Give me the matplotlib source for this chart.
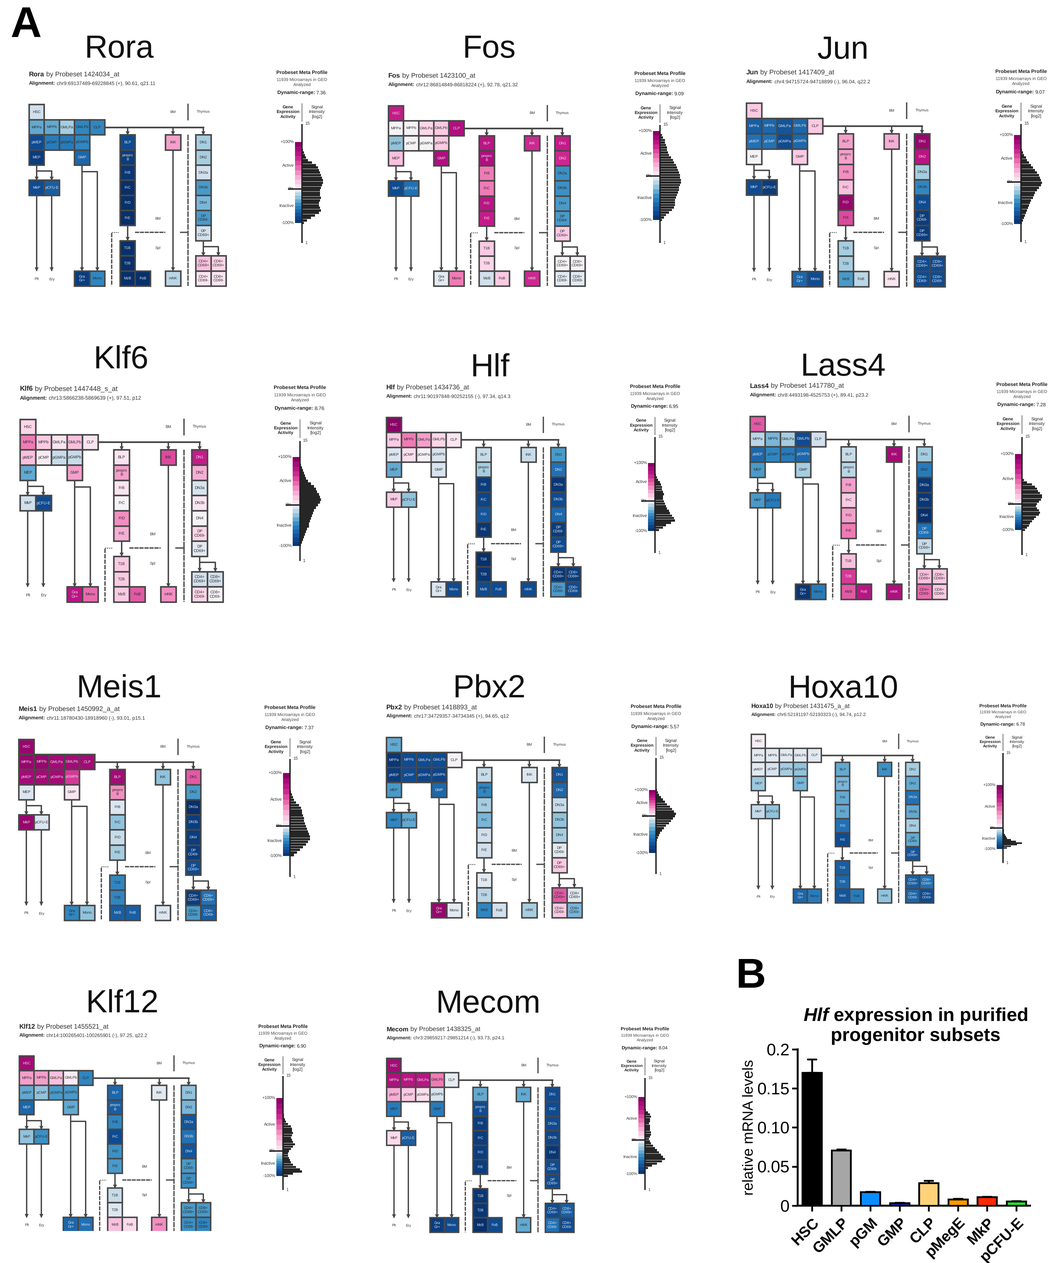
import numpy as np
import matplotlib
matplotlib.use("Agg")
import matplotlib.pyplot as plt
from matplotlib.colors import LinearSegmentedColormap
from matplotlib.patches import Rectangle
from PIL import Image

plt.rcParams['font.family'] = ['Liberation Sans', 'DejaVu Sans']
plt.rcParams['mathtext.fontset'] = 'custom'
plt.rcParams['mathtext.bfit'] = 'Liberation Sans:italic:bold'
plt.rcParams['mathtext.rm'] = 'Liberation Sans'
plt.rcParams['text.hinting'] = 'no_hinting'

W, H = 1051, 1263

# names of the cells, same order in every value list
CELL_LABELS = ["HSC", "MPPa", "MPPb", "GMLPa", "GMLPb", "CLP",
               "pMEP", "pCMP", "pGMPa", "pGMPb", "MEP", "GMP",
               "MkP", "pCFU-E", "Gra\nGr+", "Mono",
               "BLP", "prepro\nB", "FrB", "FrC", "FrD", "FrE",
               "T1B", "T2B", "MzB", "FoB", "iNK", "mNK",
               "DN1", "DN2", "DN3a", "DN3b", "DN4", "DP\nCD69-", "DP\nCD69+",
               "CD4+\nCD69+", "CD8+\nCD69+", "CD4+\nCD69-", "CD8+\nCD69-"]

# expression level of each cell, -10 (inactive) to +10 (active)
RORA = [-1, -3.5, -3.5, -2, -5, -5, -8, -5.5, -5.5, -5, -9, -6.5, -8, -7, -9, -5,
        -8, -9, -9.5, -10, -10, -10, -10, -10, -10, -10, 3, -1.5,
        -2, -2, -1, -4, -3, -4, -1, 2, 1, 0.5, 0.5]
FOS = [7, 0, 0, 1, 1.5, 8, -2.5, 0, 0, 1.5, 2, 8, -8, -6, -0.5, 4,
       7.5, 8, 4, 4, 7.5, 7, 1.5, 1, -1, 1.5, 6.5, 6.5,
       7, 6.5, -4.5, -4.5, -4, -4, 1.5, 0, 0, -0.5, -0.5]
JUN = [1.5, -7, -6.5, -7.5, -6.5, 1.5, -6, -6, -8, -6.5, 0, 1.5, -8, -9, -6.5, -8,
       3, 3, 3.5, 2, 9, 5.5, -2, -2, -4, -1.5, 2.5, 0.5,
       9, 7.5, -2, -5, -8, -9, -9, -8, -8, -8, -8]
KLF6 = [1, 4, 1.5, 0.5, 2, 0.5, 2, 0.3, -1.2, -1.2, -3.5, 3, -1, -8, 7.5, 4.5,
        0.5, 3, 0.5, 0, 3.5, 2.5, 1.5, 1.5, 1.5, 5, 5.5, 3.5,
        7, 2.5, -0.8, 0.5, 0, 1, -0.5, -1, -1, 1, 0]
HLF = [9.5, 1.5, 4, 3, 1, 0.5, -0.7, 0.7, 0, -0.8, -3.5, -0.8, 1.5, -2.5, -0.7, -8,
       -1.2, -2, -9, -8.5, -7.5, -9.5, -10, -9.5, -8, -8, -1.2, -8,
       -4, -6, -9.5, -8, -6.5, -9, -8, -9.5, -9, -4, -8]
LASS4 = [5, -1.5, -3, -2, -8, -1, -6.5, -5, -5.5, -6.5, -4, -2, -4, -5.5, -9.5, -5.5,
         -1.2, -1.5, 3, 1.5, 3, 4, 2, 6, 5, 7.5, 8.5, 8,
         -2, -5.5, -9.5, -9.5, -10, -6, -1.2, 2, 1.5, 4.5, 1.5]
MEIS1 = [9, 9, 9, 8.5, 8.5, 8.5, 8.5, 8.5, 8.5, 6, -0.7, 0.5, 9, -0.7, -5, -2.5,
         8.5, 3.5, -0.7, -2.5, -1.2, -2, -5, -5, -7, -7, -2.5, -0.7,
         5, -4, -10, -9, -9, -9, -8, -9, -6, -4, -7]
PBX2 = [-3.5, -9.5, -8, -8, -8, 0, -9, -8, -8.5, -8.5, -4, -6.5, -5, -3.5, 9, -0.5,
        -1.2, -5, -2, -3, -1, -1, -0.5, -1.5, -5, -1, -0.7, -2,
        -7.5, -6.5, -1.2, -2.5, -2, -0.5, 1.5, 5, -0.5, 1.5, -3]
HOXA10 = [0.2, -0.5, -0.5, -0.5, -0.5, -0.5, -0.5, -0.8, -2, -2.5, -2.2, -3, -1.3, -2.5, -6.5, -5.5,
          -3.5, -3, -3.5, -3.5, -6, -8, -7, -6.5, -7.5, -5.5, -4.5, -2.5,
          -2, -3.5, -6, -3.5, -2, -3.5, -7.5, -7, -6, -6.5, -8]
KLF12 = [8.5, 3, 3, 2, 0.3, -5, -3.5, -2.5, -4, -4, -6.5, -3.5, -2.5, -4.5, -6.5, -6,
         -6.5, -7, -5, -8, -4.5, -4, -1.2, -0.7, 2, 0.8, -0.5, 3.5,
         -2.5, -3, -7.5, -6, -7.5, -4, -4.5, -4, -4, -4.5, -5]
MECOM = [8.5, 8, 7.5, 7.5, 4, -0.4, 2.5, 1.5, 0.7, -0.8, -5.5, -5.5, 0.8, -7, -9, -8,
         -3.5, -8, -9, -9, -9, -9, -9.5, -9.5, -10, -8, -3.5, -3.5,
         -8, -8, -8, -8.5, -9.5, -8, -8, -8, -7, -6, -8]

# meta profile histograms, top to bottom
RORA_HIST = [1, 2, 3, 4, 6, 10, 14, 16, 17, 18, 19, 20, 21, 21, 20, 19, 18, 18, 18, 19, 18, 17, 17, 18, 19, 17, 13, 9, 5, 2]
FOS_HIST = [2, 3, 5, 5, 6, 7, 7, 8, 9, 11, 13, 14, 16, 17, 18, 19, 20, 20, 21, 21, 20, 19, 19, 18, 17, 16, 15, 15, 15, 14, 12, 9, 6, 4, 2]
JUN_HIST = [1, 2, 3, 5, 6, 8, 10, 12, 14, 16, 18, 19, 20, 21, 20, 18, 16, 14, 13, 12, 10, 9, 8, 7, 6, 5, 4, 3, 2, 1]
KLF6_HIST = [1, 2, 3, 4, 5, 6, 8, 11, 14, 16, 17, 19, 20, 21, 20, 18, 16, 14, 13, 12, 11, 10, 9, 9, 7, 6, 5, 4, 3, 2, 1]
HLF_HIST = [1, 2, 3, 5, 6, 7, 7, 8, 9, 8, 8, 9, 10, 11, 12, 14, 15, 17, 19, 20, 16, 11, 8, 4]
LASS4_HIST = [2, 5, 10, 13, 15, 16, 18, 20, 20, 19, 17, 15, 14, 15, 17, 18, 17, 14, 12, 10, 8, 7, 5, 3]
MEIS1_HIST = [1, 2, 3, 4, 6, 9, 11, 12, 12, 13, 14, 14, 15, 16, 17, 18, 19, 20, 20, 18, 16, 13, 10, 7, 4]
PBX2_HIST = [1, 2, 3, 5, 7, 9, 11, 14, 16, 18, 20, 19, 17, 15, 13, 10, 8, 6, 4, 3, 2, 1]
HOXA10_HIST = [1, 1, 1, 2, 3, 4, 8, 13, 19, 14, 8, 4]
KLF12_HIST = [1, 1, 2, 3, 5, 8, 9, 9, 10, 9, 8, 9, 10, 12, 10, 8, 6, 5, 5, 6, 7, 8, 10, 13, 17, 19, 10, 5]
MECOM_HIST = [1, 3, 5, 6, 5, 5, 4, 5, 5, 5, 6, 6, 5, 4, 5, 6, 8, 10, 12, 14, 16, 18, 20, 17, 12, 7, 3]

GENES = ["Rora", "Fos", "Jun", "Klf6", "Hlf", "Lass4", "Meis1", "Pbx2", "Hoxa10", "Klf12", "Mecom"]
PROBES = ["1424034_at", "1423100_at", "1417409_at", "1447448_s_at", "1434736_at", "1417780_at",
          "1450992_a_at", "1418893_at", "1431475_a_at", "1455521_at", "1438325_at"]
ALIGN = ["chr9:69137489-69228845 (+), 90.61, q21.11",
         "chr12:86814849-86818224 (+), 92.78, q21.32",
         "chr4:94715724-94718899 (-), 96.04, q22.2",
         "chr13:5866238-5869639 (+), 97.51, p12",
         "chr11:90197848-90252155 (-), 97.34, q14.3",
         "chr8:4493198-4525753 (+), 89.41, p23.2",
         "chr11:18780430-18918960 (-), 93.01, p15.1",
         "chr17:34729357-34734345 (+), 94.65, q12",
         "chr6:52191197-52193323 (-), 94.74, p12.2",
         "chr14:100265401-100265901 (-), 97.25, q22.2",
         "chr3:29859217-29851214 (-), 93.73, p24.1"]
DYN_RANGE = ["7.36", "9.09", "9.07", "8.76", "6.95", "7.28", "7.37", "5.57", "6.78", "6.90", "8.04"]
ALL_CELLS = [RORA, FOS, JUN, KLF6, HLF, LASS4, MEIS1, PBX2, HOXA10, KLF12, MECOM]
ALL_HIST = [RORA_HIST, FOS_HIST, JUN_HIST, KLF6_HIST, HLF_HIST, LASS4_HIST, MEIS1_HIST,
            PBX2_HIST, HOXA10_HIST, KLF12_HIST, MECOM_HIST]

# bar chart B
B_NAMES = ["HSC", "GMLP", "pGM", "GMP", "CLP", "pMegE", "MkP", "pCFU-E"]
B_VALUES = [0.17, 0.071, 0.0175, 0.0035, 0.029, 0.008, 0.011, 0.0055]
B_ERR = [0.017, 0.001, 0.0005, 0.0005, 0.003, 0.001, 0.0005, 0.0005]
B_COLORS = ["#000000", "#a6a6a6", "#0a8cff", "#0a1fbf", "#ffd27a", "#ff9a00", "#ff2a00", "#22e02a"]

# layout, all in pixels of the picture
TITLE_POS = [(119, 46), (489, 46), (843, 47), (121, 357), (490, 365), (843, 364),
             (119, 686), (489, 686), (843, 686), (122, 1001), (488, 1001)]
# left, top, right, bottom of the lineage diagram
DIAGRAM_BOX = [(29, 104.5, 226, 286), (388.3, 105.7, 585, 286), (746.3, 103, 945, 286.7),
               (20, 419.3, 223, 602), (386.3, 417.3, 580.7, 596.7), (750, 416.3, 947, 599.3),
               (18.7, 739.3, 216, 920.3), (386.3, 737.3, 582, 917.7), (751.3, 734.3, 933.7, 903),
               (19.3, 1056, 210.7, 1232), (386.7, 1058.3, 574, 1232.3)]
CLIP_BOTTOM = {3: 603.5, 9: 1231}
# axis x, axis top, axis bottom, +100%, 0%, -100%, title y
META_POS = [(302, 124, 243, 142, 189, 223, 73), (660, 125, 243, 131, 176, 220, 74),
            (1021, 124, 242, 135, 182, 224, 72), (300, 441, 561, 457, 505, 546, 388),
            (655, 437, 553, 463, 501, 531, 387), (1022, 437, 555, 454, 504, 530, 385),
            (290, 759, 877, 773, 826, 856, 708), (656, 758, 874, 790, 816, 853, 707),
            (1003, 753, 863, 785, 828, 849, 706), (283, 1076, 1190, 1098, 1151, 1176, 1027),
            (645, 1078, 1190, 1097, 1140, 1174, 1029)]
HIST_SPAN = [(150, 223), (135, 220), (150, 223), (465, 545), (475, 530), (480, 530),
             (792, 855), (790, 840), (830, 848), (1115, 1176), (1110, 1168)]

# cell positions in grid units, same order as CELL_LABELS
CELL_XY = [(0, 0), (0, 1), (1, 1), (2, 1), (3, 1), (4, 1),
           (0, 2), (1, 2), (2, 2), (3, 2), (0, 3), (3, 3),
           (0, 5), (1, 5), (3, 11), (4, 11),
           (6, 2), (6, 3), (6, 4), (6, 5), (6, 6), (6, 7),
           (6, 9), (6, 10), (6, 11), (7, 11), (9, 2), (9, 11),
           (11, 2), (11, 3), (11, 4), (11, 5), (11, 6), (11, 7), (11, 8),
           (11, 10), (12, 10), (11, 11), (12, 11)]

cmap = LinearSegmentedColormap.from_list("activity", [
    (0.0, "#08306b"), (0.1, "#0f4c92"), (0.2, "#2171b5"), (0.25, "#2f86c0"), (0.3, "#4a9bc9"),
    (0.35, "#7ab7d9"), (0.4, "#a6cde0"), (0.45, "#d0e0ec"), (0.5, "#f5f3f7"), (0.55, "#fcd5e8"),
    (0.6, "#f9c0de"), (0.65, "#f4a0cb"), (0.7, "#ef7cb6"), (0.75, "#e35ba5"), (0.8, "#d33a97"),
    (0.85, "#c51b8a"), (0.9, "#b01080"), (0.95, "#98076e"), (1.0, "#7f0060")])
LINE = "#484848"


def col(v):
    return cmap((v + 10) / 20)


def px_axes(fig, x0, y0, x1, y1):
    return fig.add_axes([x0 / W, 1 - y1 / H, (x1 - x0) / W, (y1 - y0) / H])


def arrow_line(ax, xs, ys, lw):
    ax.plot(xs, ys, color=LINE, lw=lw, solid_capstyle="butt", zorder=2)
    ax.plot(xs[-1], ys[-1] - 0.1, marker="v", ms=2.8, color=LINE, mew=0, zorder=3)


def diagram(fig, i):
    left, top, right, bottom = DIAGRAM_BOX[i]
    cw, ch = (right - left) / 13, (bottom - top) / 12
    s = cw / 15.15
    pad = 0.1
    low = CLIP_BOTTOM.get(i, bottom + pad * ch)
    ax = px_axes(fig, left - pad * cw, top - pad * ch, right + pad * cw, low)
    ax.set_xlim(-pad, 13 + pad)
    ax.set_ylim((low - top) / ch, -pad)
    ax.axis("off")

    lw = 1.0 * s
    # lines first, cells go over them
    ax.plot([5, 11.5], [1.5, 1.5], color=LINE, lw=lw + 0.2, zorder=2)
    arrow_line(ax, [6.5, 6.5], [1.5, 2], lw)
    arrow_line(ax, [9.5, 9.5], [1.5, 2], lw)
    arrow_line(ax, [11.5, 11.5], [1.5, 2], lw)
    arrow_line(ax, [0.5, 0.5], [4, 5], lw)
    arrow_line(ax, [0.5, 1.5, 1.5], [4.4, 4.4, 5], lw)
    arrow_line(ax, [0.5, 0.5], [6, 11], lw)
    arrow_line(ax, [1.5, 1.5], [6, 11], lw)
    arrow_line(ax, [3.5, 3.5], [4, 11], lw)
    arrow_line(ax, [3.5, 4.5, 4.5], [4.45, 4.45, 11], lw)
    arrow_line(ax, [6.5, 6.5], [8, 9], lw)
    arrow_line(ax, [9.5, 9.5], [3, 11], lw)
    arrow_line(ax, [11.5, 11.5], [9, 10], lw)
    arrow_line(ax, [11.5, 12.5, 12.5], [9.4, 9.4, 10], lw)

    # separators between BM, Spl and Thymus
    ax.plot([10.5, 10.5], [0, 1], color="#555555", lw=lw)
    ax.plot([10.5, 10.5], [2, 12], color="#555555", lw=lw, ls=(0, (4, 0.6)))
    ax.plot([5.45, 5.45], [8.5, 12], color="#555555", lw=lw, ls=(0, (3, 0.8)))
    ax.plot([5.45, 5.9], [8.45, 8.45], color="#555555", lw=lw * 0.7, ls=(0, (1, 1)))
    ax.plot([7, 9], [8.45, 8.45], color="#555555", lw=lw, ls=(0, (3, 0.5)))
    ax.plot([10, 10.5], [8.45, 8.45], color="#555555", lw=lw)

    fs = 2.7 * s
    for (x, y), name, v in zip(CELL_XY, CELL_LABELS, ALL_CELLS[i]):
        ax.add_patch(Rectangle((x, y), 1, 1, facecolor=col(v), edgecolor=LINE, lw=lw + 0.1, zorder=4))
        txt = "#e8e8e8" if abs(v) >= 6 else "#2a2a2a"
        ax.text(x + 0.5, y + 0.5, name, ha="center", va="center", fontsize=fs, color=txt,
                linespacing=1.15, zorder=5, clip_on=True)

    for x, y, name in [(9.5, 0.5, "BM"), (11.5, 0.5, "Thymus"), (8.5, 7.55, "BM"), (8.5, 9.5, "Spl"),
                       (0.5, 11.55, "Plt"), (1.5, 11.55, "Ery")]:
        ax.text(x, y, name, ha="center", va="center", fontsize=fs, color="#333333")

    # header lines
    head = ax.text(0, -1.78, GENES[i], fontsize=4.85 * s, fontweight="bold", va="bottom", ha="left", color="#222222")
    ax.annotate(" by Probeset " + PROBES[i], xy=(1, 0), xycoords=head, va="bottom", ha="left",
                fontsize=4.85 * s, color="#333333")
    head2 = ax.text(0, -1.23, "Alignment:", fontsize=3.65 * s, fontweight="bold", va="bottom", ha="left", color="#222222")
    ax.annotate(" " + ALIGN[i], xy=(1, 0), xycoords=head2, va="bottom", ha="left",
                fontsize=3.65 * s, color="#333333")
    return s


def meta(fig, page, i, s):
    ax_x, y_top, y_bot, p100, zero, m100, ty = META_POS[i]
    ax = px_axes(fig, ax_x - 8 * s, y_top, ax_x + 30, y_bot)
    ax.set_xlim(-8 * s, 30)
    ax.set_ylim(1, 15)
    ax.axis("off")

    def to_log(py):
        return 15 - 14 * (py - y_top) / (y_bot - y_top)

    # colour bar, 10 bins each side of zero
    edges_up = to_log(np.linspace(p100, zero, 11))
    edges_dn = to_log(np.linspace(zero, m100, 11))
    levels = np.arange(9.5, -10, -1)
    for k in range(10):
        ax.barh(edges_up[k + 1], 7 * s, height=edges_up[k] - edges_up[k + 1], left=-7 * s, align="edge",
                color=col(levels[k]), lw=0)
        ax.barh(edges_dn[k + 1], 7 * s, height=edges_dn[k] - edges_dn[k + 1], left=-7 * s, align="edge",
                color=col(levels[k + 10]), lw=0)

    # histogram
    vals = ALL_HIST[i]
    y0, y1 = HIST_SPAN[i]
    pos = to_log(np.linspace(y0, y1, len(vals)))
    step = abs(pos[1] - pos[0])
    ax.barh(pos, vals, height=step * 0.92, left=0, color="#262626", lw=0)

    ax.plot([0, 0], [1, 15], color="#222222", lw=1.0, clip_on=False, solid_capstyle="butt")
    ax.plot([-14 * s, 0], [to_log(zero)] * 2, color="#222222", lw=1.0, clip_on=False, solid_capstyle="butt")

    # labels go on the page axes, in pixels
    f = 3.1 * s
    page.text(ax_x, ty, "Probeset Meta Profile", fontsize=3.6 * s, fontweight="bold", ha="center", va="center", color="#222222")
    page.text(ax_x, ty + 7 * s, "11939 Microarrays in GEO", fontsize=f, ha="center", va="center", color="#444444")
    page.text(ax_x, ty + 12 * s, "Analyzed", fontsize=f, ha="center", va="center", color="#444444")
    page.text(ax_x + 13 * s, ty + 20 * s, "Dynamic-range:", fontsize=3.6 * s, fontweight="bold", ha="right", va="center", color="#222222")
    page.text(ax_x + 14 * s, ty + 20 * s, DYN_RANGE[i], fontsize=3.6 * s, ha="left", va="center", color="#222222")
    page.text(ax_x - 14 * s, ty + 39 * s, "Gene\nExpression\nActivity", fontsize=f, fontweight="bold", ha="center", va="center", linespacing=1.25, color="#222222")
    page.text(ax_x + 15 * s, ty + 39 * s, "Signal\nIntensity\n[log2]", fontsize=f, ha="center", va="center", linespacing=1.25, color="#222222")
    page.plot([ax_x, ax_x], [ty + 31 * s, ty + 48 * s], color="#aaaaaa", lw=1.0)
    lab_x = ax_x - 8 * s
    for y, t in [(p100, "+100%"), (zero, "0%"), (m100, "-100%"),
                 ((p100 + zero) / 2, "Active"), ((zero + m100) / 2, "Inactive")]:
        page.text(lab_x, y, t, fontsize=f, ha="right", va="center", color="#333333")
    page.text(ax_x + 3, y_top, "15", fontsize=f, ha="left", va="center", color="#333333")
    page.text(ax_x + 3, y_bot, "1", fontsize=f, ha="left", va="center", color="#333333")


def bars(fig):
    ax = px_axes(fig, 797.7, 1049.3, 1030, 1205.7)
    x = np.arange(len(B_NAMES))
    ax.bar(x, B_VALUES, width=0.66, color=B_COLORS, edgecolor="black", linewidth=1.3, zorder=3)
    ax.errorbar(x, B_VALUES, yerr=[[0] * len(x), B_ERR], fmt="none", ecolor="black", elinewidth=1.3,
                capsize=3.5, capthick=1.3, zorder=2)
    ax.set_xlim(-0.49, 7.47)
    ax.set_ylim(0, 0.2)
    ax.set_yticks([0, 0.05, 0.10, 0.15, 0.2])
    ax.set_yticklabels(["0", "0.05", "0.10", "0.15", "0.2"], fontsize=12)
    ax.set_xticks(x)
    ax.set_xticklabels(B_NAMES, fontsize=10.8, fontweight="bold", rotation=45, ha="right",
                       rotation_mode="anchor")
    ax.tick_params(width=1.3, length=4, pad=2)
    ax.tick_params(axis="x", pad=3)
    for side in ["top", "right"]:
        ax.spines[side].set_visible(False)
    for side in ["left", "bottom"]:
        ax.spines[side].set_linewidth(1.4)
    ax.set_ylabel("relative mRNA levels", fontsize=10.6, labelpad=0.5)
    ax.patch.set_alpha(0)


def main():
    fig = plt.figure(figsize=(W / 100, H / 100), dpi=100)
    page = fig.add_axes([0, 0, 1, 1])
    page.set_xlim(0, W)
    page.set_ylim(H, 0)
    page.axis("off")

    page.text(26, 26, "A", fontsize=31, fontweight="bold", ha="center", va="center")
    page.text(751, 977, "B", fontsize=30, fontweight="bold", ha="center", va="center")

    for i, gene in enumerate(GENES):
        x, y = TITLE_POS[i]
        page.text(x, y + 3, gene, fontsize=23, ha="center", va="center", color="#111111")
        s = diagram(fig, i)
        meta(fig, page, i, s)

    page.text(915.7, 1026, r"$\mathbfit{Hlf}$ expression in purified" + "\nprogenitor subsets",
              fontsize=13.5, fontweight="bold", ha="center", va="center", linespacing=1.15)
    bars(fig)
    # the tiny labels only stay legible when drawn big and scaled down
    fig.savefig("out.png", dpi=300)
    Image.open("out.png").convert("RGB").resize((W, H), Image.LANCZOS).save("out.png")


if __name__ == "__main__":
    main()
